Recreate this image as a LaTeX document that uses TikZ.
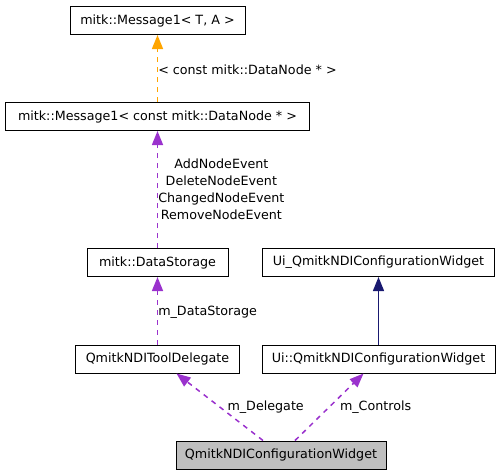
\documentclass[tikz,border=0pt]{standalone}
\usepackage{fontspec}
\setmainfont{DejaVu Sans}
\usetikzlibrary{arrows.meta}
\definecolor{usepurple}{HTML}{9A32CD}
\definecolor{tmplorange}{HTML}{FFA500}
\definecolor{basenavy}{HTML}{191970}
\definecolor{selfgray}{HTML}{BFBFBF}
\begin{document}
\begin{tikzpicture}[x=1pt, y=-1pt,
   font=\fontsize{12.7}{17}\selectfont,
   cls/.style={draw, line width=1pt, minimum height=28pt, inner sep=0pt},
   member/.style={draw=usepurple, line width=1.5pt, dash pattern=on 5pt off 5pt,
                  -{Triangle[length=14pt, width=11pt]}},
   tmpl/.style={draw=tmplorange, line width=1.5pt, dash pattern=on 5pt off 5pt,
                -{Triangle[length=14pt, width=11pt]}},
   inherit/.style={draw=basenavy, line width=1.3pt,
                   -{Triangle[length=14pt, width=11pt]}},
   lbl/.style={text=black, inner sep=0pt}]

\useasboundingbox (0,0) rectangle (500,475);

\node[cls, minimum width=175pt] (msgT)    at (157.5,20.5) {mitk::Message1< T, A >};
\node[cls, minimum width=304pt] (msgNode) at (157.5,116.5) {mitk::Message1< const mitk::DataNode * >};
\node[cls, minimum width=141pt] (storage) at (157.5,262.5) {mitk::DataStorage};
\node[cls, minimum width=232pt] (uiBase)  at (378.5,262.5) {Ui\_QmitkNDIConfigurationWidget};
\node[cls, minimum width=164pt] (delegate) at (157.5,359)  {QmitkNDIToolDelegate};
\node[cls, minimum width=233pt] (uiCtrl)  at (378.5,359)   {Ui::QmitkNDIConfigurationWidget};
\node[cls, fill=selfgray, minimum width=210pt] (widget) at (281,455) {QmitkNDIConfigurationWidget};

\draw[tmpl] (msgNode.north) -- (msgT.south)
   node[lbl, midway, right, yshift=-1.5pt] {< const mitk::DataNode * >};
\draw[member] (storage.north) -- (msgNode.south)
   node[lbl, midway, right, align=center] {AddNodeEvent\\DeleteNodeEvent\\ChangedNodeEvent\\RemoveNodeEvent};
\draw[member] (delegate.north) -- (storage.south)
   node[lbl, midway, right, yshift=-2pt] {m\_DataStorage};
\draw[inherit] (uiCtrl.north) -- (uiBase.south);
\draw[member] ([xshift=-18pt]widget.north) -- ([xshift=19pt]delegate.south)
   node[lbl, midway, right=7pt] {m\_Delegate};
\draw[member] ([xshift=14pt]widget.north) -- ([xshift=-15pt]uiCtrl.south)
   node[lbl, midway, right=10pt] {m\_Controls};

\end{tikzpicture}
\end{document}
